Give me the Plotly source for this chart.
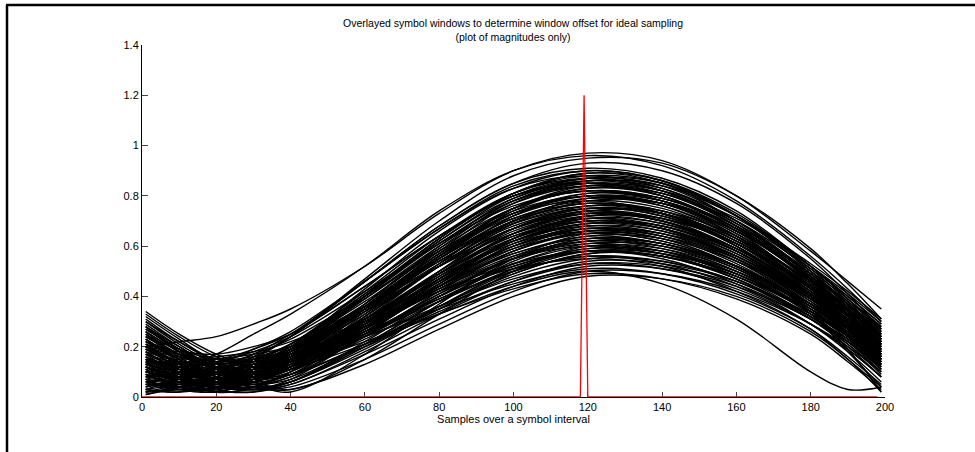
import plotly.graph_objects as go

# Sample positions (samples over a symbol interval) at which each window magnitude was read
sample_x = [1, 10, 20, 30, 40, 60, 80, 100, 120, 140, 160, 180, 190, 199]

# Magnitudes of the overlayed symbol windows (one list per window)
windows = [
    [0.20, 0.22, 0.24, 0.29, 0.35, 0.52, 0.73, 0.90, 0.97, 0.94, 0.80, 0.58, 0.46, 0.35],
    [0.10, 0.12, 0.17, 0.25, 0.33, 0.52, 0.74, 0.90, 0.96, 0.92, 0.78, 0.56, 0.43, 0.30],
    [0.28, 0.18, 0.12, 0.16, 0.24, 0.47, 0.70, 0.88, 0.95, 0.93, 0.80, 0.59, 0.45, 0.31],
    [0.05, 0.04, 0.08, 0.15, 0.24, 0.46, 0.68, 0.85, 0.93, 0.90, 0.77, 0.55, 0.41, 0.27],
    [0.22, 0.15, 0.10, 0.13, 0.20, 0.43, 0.66, 0.83, 0.90, 0.86, 0.72, 0.50, 0.37, 0.24],
    [0.15, 0.08, 0.04, 0.09, 0.17, 0.40, 0.63, 0.81, 0.89, 0.86, 0.73, 0.52, 0.39, 0.27],
    [0.30, 0.22, 0.15, 0.14, 0.20, 0.41, 0.63, 0.81, 0.89, 0.85, 0.70, 0.48, 0.34, 0.20],
    [0.08, 0.10, 0.13, 0.19, 0.26, 0.46, 0.67, 0.83, 0.88, 0.83, 0.69, 0.47, 0.35, 0.22],
    [0.18, 0.11, 0.06, 0.08, 0.15, 0.37, 0.60, 0.79, 0.87, 0.85, 0.72, 0.52, 0.40, 0.29],
    [0.02, 0.05, 0.09, 0.14, 0.21, 0.42, 0.64, 0.81, 0.87, 0.82, 0.68, 0.46, 0.32, 0.18],
    [0.25, 0.17, 0.10, 0.10, 0.16, 0.37, 0.59, 0.78, 0.86, 0.84, 0.72, 0.53, 0.42, 0.31],
    [0.12, 0.06, 0.02, 0.07, 0.15, 0.36, 0.58, 0.77, 0.85, 0.82, 0.69, 0.48, 0.35, 0.21],
    [0.20, 0.18, 0.17, 0.20, 0.25, 0.44, 0.64, 0.80, 0.85, 0.80, 0.66, 0.44, 0.30, 0.16],
    [0.07, 0.03, 0.05, 0.11, 0.19, 0.39, 0.60, 0.77, 0.84, 0.81, 0.69, 0.49, 0.37, 0.25],
    [0.27, 0.19, 0.12, 0.09, 0.13, 0.33, 0.55, 0.74, 0.83, 0.81, 0.70, 0.51, 0.40, 0.29],
    [0.14, 0.13, 0.14, 0.18, 0.24, 0.42, 0.61, 0.76, 0.82, 0.78, 0.64, 0.43, 0.29, 0.15],
    [0.04, 0.06, 0.04, 0.08, 0.16, 0.36, 0.57, 0.75, 0.82, 0.79, 0.67, 0.47, 0.35, 0.23],
    [0.23, 0.14, 0.06, 0.06, 0.12, 0.32, 0.53, 0.72, 0.81, 0.79, 0.68, 0.50, 0.39, 0.28],
    [0.10, 0.07, 0.08, 0.13, 0.20, 0.38, 0.58, 0.74, 0.80, 0.76, 0.63, 0.42, 0.30, 0.17],
    [0.33, 0.24, 0.16, 0.12, 0.14, 0.32, 0.52, 0.70, 0.79, 0.77, 0.66, 0.47, 0.36, 0.25],
    [0.06, 0.09, 0.12, 0.17, 0.23, 0.40, 0.58, 0.73, 0.78, 0.73, 0.60, 0.40, 0.27, 0.13],
    [0.19, 0.12, 0.05, 0.04, 0.10, 0.29, 0.50, 0.69, 0.78, 0.77, 0.66, 0.48, 0.37, 0.26],
    [0.11, 0.04, 0.03, 0.09, 0.17, 0.35, 0.55, 0.71, 0.77, 0.73, 0.60, 0.40, 0.28, 0.15],
    [0.24, 0.19, 0.15, 0.16, 0.20, 0.36, 0.54, 0.70, 0.76, 0.73, 0.61, 0.42, 0.31, 0.19],
    [0.03, 0.02, 0.06, 0.12, 0.19, 0.36, 0.54, 0.69, 0.75, 0.72, 0.61, 0.43, 0.32, 0.21],
    [0.29, 0.20, 0.11, 0.06, 0.09, 0.27, 0.47, 0.65, 0.74, 0.73, 0.63, 0.46, 0.36, 0.26],
    [0.16, 0.10, 0.07, 0.10, 0.16, 0.33, 0.52, 0.67, 0.74, 0.70, 0.58, 0.39, 0.27, 0.14],
    [0.08, 0.11, 0.10, 0.13, 0.18, 0.34, 0.52, 0.67, 0.73, 0.70, 0.59, 0.41, 0.30, 0.18],
    [0.21, 0.13, 0.06, 0.03, 0.07, 0.25, 0.45, 0.63, 0.72, 0.71, 0.61, 0.44, 0.34, 0.24],
    [0.13, 0.15, 0.16, 0.18, 0.22, 0.36, 0.52, 0.65, 0.71, 0.67, 0.55, 0.37, 0.25, 0.12],
    [0.26, 0.16, 0.08, 0.05, 0.09, 0.26, 0.45, 0.62, 0.70, 0.68, 0.58, 0.41, 0.31, 0.21],
    [0.05, 0.08, 0.07, 0.10, 0.15, 0.31, 0.49, 0.64, 0.70, 0.67, 0.56, 0.39, 0.28, 0.16],
    [0.17, 0.09, 0.02, 0.04, 0.10, 0.27, 0.46, 0.62, 0.69, 0.67, 0.57, 0.40, 0.30, 0.19],
    [0.31, 0.22, 0.14, 0.10, 0.11, 0.26, 0.44, 0.60, 0.68, 0.66, 0.56, 0.39, 0.29, 0.18],
    [0.09, 0.05, 0.05, 0.09, 0.15, 0.30, 0.47, 0.61, 0.67, 0.64, 0.53, 0.36, 0.25, 0.13],
    [0.22, 0.17, 0.13, 0.13, 0.16, 0.30, 0.46, 0.60, 0.66, 0.63, 0.52, 0.35, 0.24, 0.11],
    [0.12, 0.07, 0.04, 0.06, 0.11, 0.26, 0.43, 0.58, 0.66, 0.64, 0.55, 0.39, 0.30, 0.20],
    [0.02, 0.04, 0.08, 0.12, 0.16, 0.30, 0.46, 0.59, 0.65, 0.62, 0.52, 0.35, 0.25, 0.14],
    [0.25, 0.15, 0.07, 0.03, 0.06, 0.22, 0.40, 0.56, 0.64, 0.63, 0.54, 0.39, 0.30, 0.21],
    [0.15, 0.11, 0.09, 0.11, 0.15, 0.29, 0.44, 0.57, 0.63, 0.60, 0.50, 0.34, 0.24, 0.12],
    [0.07, 0.03, 0.02, 0.06, 0.11, 0.25, 0.41, 0.55, 0.62, 0.60, 0.51, 0.36, 0.27, 0.17],
    [0.20, 0.16, 0.12, 0.12, 0.15, 0.28, 0.43, 0.56, 0.62, 0.59, 0.49, 0.33, 0.22, 0.10],
    [0.28, 0.19, 0.10, 0.04, 0.06, 0.21, 0.38, 0.53, 0.61, 0.60, 0.52, 0.37, 0.28, 0.19],
    [0.10, 0.12, 0.13, 0.14, 0.17, 0.29, 0.43, 0.55, 0.60, 0.57, 0.47, 0.31, 0.20, 0.08],
    [0.04, 0.06, 0.05, 0.07, 0.11, 0.24, 0.39, 0.52, 0.59, 0.57, 0.49, 0.34, 0.25, 0.15],
    [0.18, 0.10, 0.03, 0.02, 0.06, 0.20, 0.36, 0.50, 0.58, 0.57, 0.49, 0.35, 0.27, 0.18],
    [0.13, 0.14, 0.14, 0.15, 0.17, 0.28, 0.42, 0.53, 0.58, 0.55, 0.45, 0.29, 0.18, 0.06],
    [0.24, 0.17, 0.11, 0.08, 0.09, 0.21, 0.36, 0.49, 0.57, 0.56, 0.48, 0.34, 0.25, 0.16],
    [0.06, 0.04, 0.06, 0.09, 0.13, 0.25, 0.38, 0.50, 0.56, 0.54, 0.46, 0.31, 0.21, 0.10],
    [0.16, 0.09, 0.04, 0.04, 0.08, 0.21, 0.35, 0.48, 0.55, 0.54, 0.46, 0.33, 0.24, 0.15],
    [0.11, 0.13, 0.15, 0.17, 0.20, 0.30, 0.42, 0.51, 0.55, 0.52, 0.42, 0.27, 0.15, 0.04],
    [0.21, 0.13, 0.06, 0.03, 0.05, 0.18, 0.33, 0.46, 0.54, 0.53, 0.46, 0.32, 0.23, 0.14],
    [0.03, 0.05, 0.07, 0.10, 0.13, 0.24, 0.36, 0.47, 0.53, 0.51, 0.43, 0.29, 0.19, 0.08],
    [0.14, 0.08, 0.03, 0.02, 0.05, 0.17, 0.31, 0.44, 0.52, 0.51, 0.44, 0.31, 0.22, 0.13],
    [0.09, 0.08, 0.09, 0.11, 0.14, 0.24, 0.35, 0.45, 0.51, 0.49, 0.41, 0.27, 0.16, 0.05],
    [0.19, 0.12, 0.06, 0.03, 0.04, 0.15, 0.29, 0.42, 0.50, 0.49, 0.42, 0.29, 0.20, 0.10],
    [0.07, 0.06, 0.06, 0.08, 0.11, 0.21, 0.33, 0.43, 0.49, 0.47, 0.39, 0.25, 0.14, 0.03],
    [0.13, 0.07, 0.02, 0.03, 0.03, 0.13, 0.27, 0.40, 0.48, 0.47, 0.40, 0.26, 0.15, 0.02],
    [0.34, 0.25, 0.17, 0.12, 0.12, 0.27, 0.46, 0.63, 0.72, 0.70, 0.58, 0.40, 0.29, 0.17],
    [0.01, 0.03, 0.02, 0.07, 0.15, 0.35, 0.56, 0.73, 0.80, 0.77, 0.65, 0.45, 0.33, 0.20],
    [0.08, 0.10, 0.09, 0.06, 0.03, 0.15, 0.33, 0.50, 0.60, 0.59, 0.50, 0.33, 0.18, 0.04],
    [0.17, 0.13, 0.09, 0.05, 0.02, 0.17, 0.37, 0.55, 0.65, 0.63, 0.52, 0.34, 0.19, 0.02],
    [0.12, 0.06, 0.05, 0.08, 0.12, 0.22, 0.33, 0.44, 0.50, 0.45, 0.31, 0.10, 0.03, 0.04],
    [0.12, 0.09, 0.10, 0.16, 0.24, 0.46, 0.68, 0.85, 0.91, 0.87, 0.74, 0.52, 0.39, 0.26],
    [0.26, 0.18, 0.11, 0.11, 0.18, 0.40, 0.63, 0.81, 0.88, 0.85, 0.72, 0.51, 0.38, 0.25],
    [0.09, 0.04, 0.03, 0.09, 0.18, 0.40, 0.62, 0.80, 0.87, 0.84, 0.70, 0.49, 0.36, 0.23],
    [0.19, 0.16, 0.15, 0.19, 0.25, 0.44, 0.64, 0.80, 0.86, 0.82, 0.68, 0.46, 0.33, 0.19],
    [0.03, 0.07, 0.10, 0.15, 0.21, 0.41, 0.61, 0.78, 0.85, 0.81, 0.68, 0.47, 0.34, 0.21],
    [0.32, 0.23, 0.14, 0.10, 0.14, 0.34, 0.56, 0.75, 0.84, 0.82, 0.71, 0.52, 0.41, 0.30],
    [0.14, 0.08, 0.04, 0.07, 0.14, 0.35, 0.56, 0.75, 0.83, 0.80, 0.67, 0.47, 0.35, 0.22],
    [0.07, 0.10, 0.11, 0.15, 0.21, 0.39, 0.59, 0.75, 0.82, 0.78, 0.65, 0.45, 0.32, 0.19],
    [0.22, 0.15, 0.09, 0.09, 0.15, 0.34, 0.55, 0.73, 0.81, 0.78, 0.66, 0.47, 0.35, 0.24],
    [0.17, 0.12, 0.10, 0.13, 0.19, 0.37, 0.57, 0.73, 0.80, 0.77, 0.64, 0.44, 0.32, 0.19],
    [0.05, 0.03, 0.06, 0.11, 0.18, 0.36, 0.56, 0.72, 0.79, 0.76, 0.64, 0.45, 0.33, 0.21],
    [0.28, 0.20, 0.12, 0.09, 0.12, 0.31, 0.52, 0.70, 0.79, 0.77, 0.66, 0.48, 0.37, 0.27],
    [0.13, 0.09, 0.07, 0.11, 0.17, 0.35, 0.55, 0.71, 0.78, 0.75, 0.63, 0.44, 0.32, 0.20],
    [0.21, 0.17, 0.14, 0.15, 0.19, 0.36, 0.55, 0.70, 0.77, 0.73, 0.61, 0.41, 0.29, 0.16],
    [0.09, 0.05, 0.03, 0.07, 0.14, 0.32, 0.52, 0.69, 0.76, 0.74, 0.62, 0.44, 0.33, 0.22],
    [0.18, 0.11, 0.06, 0.07, 0.12, 0.30, 0.50, 0.67, 0.75, 0.73, 0.62, 0.44, 0.33, 0.22],
    [0.04, 0.07, 0.09, 0.13, 0.18, 0.34, 0.52, 0.67, 0.74, 0.71, 0.59, 0.41, 0.29, 0.17],
    [0.27, 0.19, 0.12, 0.09, 0.11, 0.28, 0.48, 0.65, 0.73, 0.71, 0.61, 0.43, 0.33, 0.22],
    [0.11, 0.06, 0.04, 0.07, 0.13, 0.30, 0.49, 0.65, 0.72, 0.69, 0.58, 0.40, 0.29, 0.17],
    [0.20, 0.14, 0.10, 0.11, 0.15, 0.31, 0.49, 0.64, 0.71, 0.68, 0.57, 0.39, 0.28, 0.16],
    [0.07, 0.05, 0.06, 0.10, 0.15, 0.31, 0.49, 0.63, 0.70, 0.67, 0.56, 0.38, 0.27, 0.15],
    [0.23, 0.15, 0.08, 0.05, 0.08, 0.25, 0.44, 0.61, 0.69, 0.68, 0.58, 0.41, 0.31, 0.21],
    [0.15, 0.12, 0.11, 0.13, 0.17, 0.31, 0.48, 0.62, 0.68, 0.65, 0.54, 0.36, 0.25, 0.13],
    [0.03, 0.02, 0.04, 0.08, 0.13, 0.28, 0.45, 0.60, 0.67, 0.65, 0.55, 0.38, 0.28, 0.17],
    [0.26, 0.18, 0.11, 0.07, 0.09, 0.24, 0.42, 0.58, 0.66, 0.65, 0.56, 0.40, 0.31, 0.22],
    [0.10, 0.07, 0.06, 0.09, 0.13, 0.28, 0.44, 0.58, 0.65, 0.62, 0.52, 0.35, 0.24, 0.13],
    [0.18, 0.14, 0.11, 0.12, 0.15, 0.28, 0.44, 0.57, 0.64, 0.61, 0.51, 0.34, 0.23, 0.11],
    [0.06, 0.04, 0.03, 0.06, 0.10, 0.24, 0.40, 0.55, 0.63, 0.61, 0.52, 0.37, 0.28, 0.18],
    [0.23, 0.15, 0.08, 0.05, 0.07, 0.21, 0.38, 0.54, 0.62, 0.61, 0.52, 0.37, 0.28, 0.19],
    [0.13, 0.10, 0.09, 0.11, 0.14, 0.27, 0.42, 0.55, 0.61, 0.58, 0.48, 0.32, 0.21, 0.09],
    [0.02, 0.03, 0.05, 0.08, 0.12, 0.25, 0.40, 0.53, 0.60, 0.58, 0.49, 0.34, 0.24, 0.14],
    [0.20, 0.13, 0.07, 0.04, 0.06, 0.20, 0.36, 0.51, 0.59, 0.58, 0.50, 0.36, 0.27, 0.18],
    [0.09, 0.07, 0.07, 0.09, 0.13, 0.25, 0.40, 0.52, 0.58, 0.56, 0.47, 0.32, 0.22, 0.11],
    [0.15, 0.09, 0.04, 0.03, 0.06, 0.19, 0.35, 0.49, 0.57, 0.56, 0.48, 0.34, 0.26, 0.17],
    [0.05, 0.05, 0.07, 0.10, 0.14, 0.26, 0.39, 0.50, 0.56, 0.53, 0.44, 0.29, 0.19, 0.08],
    [0.10, 0.08, 0.09, 0.14, 0.21, 0.40, 0.61, 0.78, 0.84, 0.80, 0.67, 0.46, 0.34, 0.21],
    [0.30, 0.21, 0.13, 0.09, 0.11, 0.29, 0.49, 0.67, 0.76, 0.74, 0.64, 0.46, 0.35, 0.25],
    [0.12, 0.08, 0.06, 0.09, 0.14, 0.31, 0.50, 0.66, 0.73, 0.70, 0.59, 0.41, 0.30, 0.18],
    [0.08, 0.06, 0.05, 0.08, 0.13, 0.29, 0.47, 0.62, 0.69, 0.66, 0.55, 0.37, 0.26, 0.14],
    [0.24, 0.16, 0.08, 0.07, 0.12, 0.32, 0.53, 0.72, 0.80, 0.78, 0.67, 0.49, 0.38, 0.28],
    [0.01, 0.04, 0.07, 0.12, 0.18, 0.35, 0.54, 0.70, 0.77, 0.74, 0.62, 0.43, 0.31, 0.19],
    [0.16, 0.11, 0.07, 0.08, 0.12, 0.28, 0.47, 0.63, 0.71, 0.69, 0.59, 0.42, 0.32, 0.21],
    [0.19, 0.14, 0.10, 0.10, 0.13, 0.27, 0.44, 0.59, 0.67, 0.64, 0.54, 0.37, 0.27, 0.15],
    [0.12, 0.08, 0.05, 0.07, 0.11, 0.25, 0.41, 0.55, 0.63, 0.61, 0.52, 0.36, 0.26, 0.15],
    [0.15, 0.10, 0.07, 0.11, 0.19, 0.40, 0.62, 0.79, 0.86, 0.83, 0.70, 0.49, 0.37, 0.24],
    [0.06, 0.08, 0.11, 0.17, 0.25, 0.46, 0.67, 0.84, 0.90, 0.86, 0.72, 0.50, 0.37, 0.23],
    [0.22, 0.17, 0.12, 0.10, 0.11, 0.23, 0.38, 0.51, 0.58, 0.56, 0.47, 0.32, 0.23, 0.13],
    [0.10, 0.06, 0.04, 0.05, 0.09, 0.20, 0.34, 0.46, 0.53, 0.52, 0.45, 0.31, 0.22, 0.12],
    [0.14, 0.13, 0.13, 0.15, 0.19, 0.35, 0.53, 0.68, 0.75, 0.72, 0.60, 0.41, 0.29, 0.16],
    [0.20, 0.14, 0.09, 0.10, 0.16, 0.36, 0.57, 0.75, 0.82, 0.79, 0.67, 0.47, 0.35, 0.23],
]

# Red marker for the chosen window offset
marker_x = [0, 118, 119, 120, 198]
marker_y = [0, 0, 1.2, 0, 0]

x_ticks = [0, 20, 40, 60, 80, 100, 120, 140, 160, 180, 200]
y_ticks = [0, 0.2, 0.4, 0.6, 0.8, 1.0, 1.2, 1.4]

W, H = 975, 452
ML, MR, MT, MB = 142, 90, 45, 55

fig = go.Figure()
for w in windows:
    fig.add_trace(go.Scatter(
        x=sample_x, y=w, mode="lines",
        line=dict(color="black", width=1.4, shape="spline", smoothing=1.0),
        showlegend=False, hoverinfo="skip",
    ))
fig.add_trace(go.Scatter(
    x=marker_x, y=marker_y, mode="lines",
    line=dict(color="#ff0000", width=1.3),
    showlegend=False, hoverinfo="skip",
))

font_family = "Liberation Sans, Arial, Helvetica, sans-serif"

def px_x(p):
    return (p - ML) / (W - ML - MR)

def px_y(p):
    return 1 - (p - MT) / (H - MT - MB)

fig.update_layout(
    width=W, height=H,
    margin=dict(l=ML, r=MR, t=MT, b=MB),
    paper_bgcolor="white", plot_bgcolor="white",
    font=dict(family=font_family, size=11, color="black"),
    title=dict(
        text="Overlayed symbol windows to determine window offset for ideal sampling<br>(plot of magnitudes only)",
        x=px_x(513), xanchor="center", xref="paper",
        y=1 - 27 / H, yanchor="top", yref="container",
        font=dict(size=10.5, family=font_family),
    ),
    xaxis=dict(
        range=[0, 200], tickvals=x_ticks, ticks="inside", ticklen=5,
        showline=True, linecolor="black", linewidth=1, mirror=False,
        showgrid=False, zeroline=False, layer="below traces",
        tickfont=dict(size=11),
        title=dict(text="Samples over a symbol interval", standoff=2, font=dict(size=11)),
    ),
    yaxis=dict(
        range=[0, 1.4], tickvals=y_ticks, ticks="inside", ticklen=6,
        showline=True, linecolor="black", linewidth=1, mirror=False,
        showgrid=False, zeroline=False, layer="below traces",
        tickfont=dict(size=11),
    ),
    shapes=[
        dict(type="line", xref="paper", yref="paper",
             x0=px_x(6), x1=px_x(W), y0=px_y(5), y1=px_y(5),
             line=dict(color="black", width=2.5)),
        dict(type="line", xref="paper", yref="paper",
             x0=px_x(7), x1=px_x(7), y0=px_y(5), y1=px_y(H),
             line=dict(color="black", width=2.5)),
    ],
)

fig.write_html("out.html")
